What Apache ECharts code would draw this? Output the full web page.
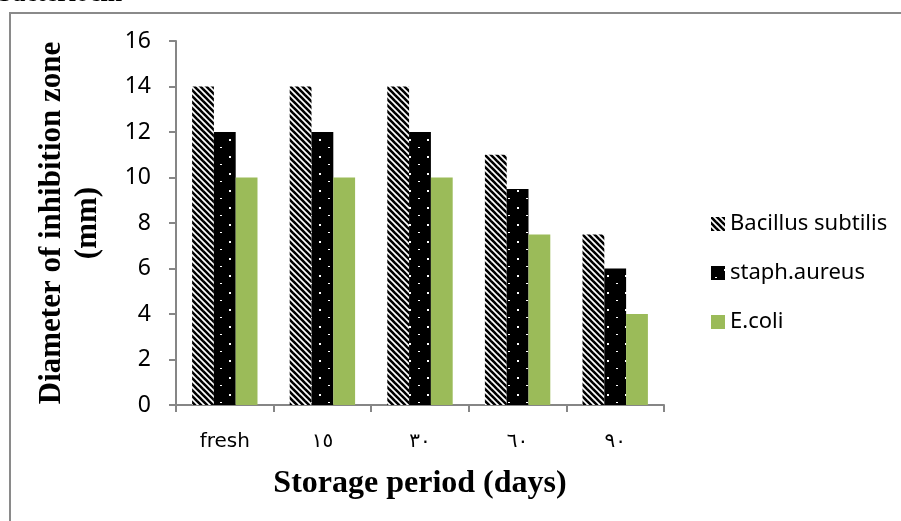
<!DOCTYPE html>
<html><head><meta charset="utf-8">
<script src="https://cdn.jsdelivr.net/npm/echarts@6/dist/echarts.min.js"></script>
<style>html,body{margin:0;padding:0;background:#fff}#c{width:901px;height:521px}</style>
</head><body><div id="c"></div>
<script>
const categories = ['fresh', '١٥', '٣٠', '٦٠', '٩٠'];
const bacillus = [14, 14, 14, 11, 7.5];
const staph = [12, 12, 12, 9.5, 6];
const ecoli = [10, 10, 10, 7.5, 4];
const seriesNames = ['Bacillus subtilis', 'staph.aureus', 'E.coli'];

function stripePattern() {
  const c = document.createElement('canvas');
  c.width = 6; c.height = 6;
  const g = c.getContext('2d');
  g.fillStyle = '#fff'; g.fillRect(0, 0, 6, 6);
  g.strokeStyle = '#000'; g.lineWidth = 2.6;
  for (let k = -2; k <= 2; k++) {
    g.beginPath(); g.moveTo(k * 6 - 1, -1); g.lineTo(k * 6 + 7, 7); g.stroke();
  }
  return c;
}
function dotPattern() {
  const c = document.createElement('canvas');
  c.width = 18; c.height = 17;
  const g = c.getContext('2d');
  g.fillStyle = '#000'; g.fillRect(0, 0, 18, 17);
  g.fillStyle = '#fff';
  g.fillRect(13, 3, 2, 2);
  g.fillRect(4, 11, 2, 1);
  return c;
}

const chart = echarts.init(document.getElementById('c'), null, {renderer: 'canvas'});
const axisColor = '#868686';
chart.setOption({
  animation: false,
  backgroundColor: '#fff',
  grid: {left: 176, top: 41, right: 237, bottom: 116, containLabel: false},
  legend: {
    orient: 'vertical', left: 706, top: 208, itemGap: 27,
    itemWidth: 14, itemHeight: 14, icon: 'rect',
    textStyle: {fontFamily: 'Noto Sans', fontSize: 22, color: '#000'},
    data: seriesNames
  },
  xAxis: {
    type: 'category', data: categories,
    axisLine: {lineStyle: {color: axisColor, width: 2}},
    axisTick: {show: true, length: 7, lineStyle: {color: axisColor, width: 2}},
    axisLabel: {margin: 27, fontFamily: 'DejaVu Sans', fontSize: 20, color: '#000'},
    name: 'Storage period (days)', nameLocation: 'middle', nameGap: 63,
    nameTextStyle: {fontFamily: 'Liberation Serif', fontWeight: 'bold', fontSize: 32, color: '#000'}
  },
  yAxis: {
    type: 'value', min: 0, max: 16, interval: 2,
    axisLine: {show: true, lineStyle: {color: axisColor, width: 2}},
    axisTick: {show: true, length: 7, lineStyle: {color: axisColor, width: 2}},
    splitLine: {show: false},
    axisLabel: {margin: 25, fontFamily: 'Noto Sans', fontSize: 23, color: '#000'},
    name: 'Diameter of inhibition zone\n(mm)', nameLocation: 'middle', nameGap: 70, nameRotate: 90,
    nameTextStyle: {fontFamily: 'Liberation Serif', fontWeight: 'bold', fontSize: 31, color: '#000', lineHeight: 36}
  },
  series: [
    {name: seriesNames[0], type: 'bar', data: bacillus, barGap: '0%', barCategoryGap: '33%',
     itemStyle: {color: {image: stripePattern(), repeat: 'repeat'}}},
    {name: seriesNames[1], type: 'bar', data: staph, barGap: '0%', barCategoryGap: '33%',
     itemStyle: {color: {image: dotPattern(), repeat: 'repeat'}}},
    {name: seriesNames[2], type: 'bar', data: ecoli, barGap: '0%', barCategoryGap: '33%',
     itemStyle: {color: '#9BBB59'}}
  ],
  graphic: [
    {type: 'polyline', shape: {points: [[10, 521], [10, 13], [901, 13]]}, style: {stroke: '#8a8a8a', lineWidth: 2, fill: null}},
    {type: 'text', left: -2, top: -19, style: {text: 'bacteriocin', font: 'bold 26px "Liberation Serif"', fill: '#000'}}
  ]
});
</script></body></html>
